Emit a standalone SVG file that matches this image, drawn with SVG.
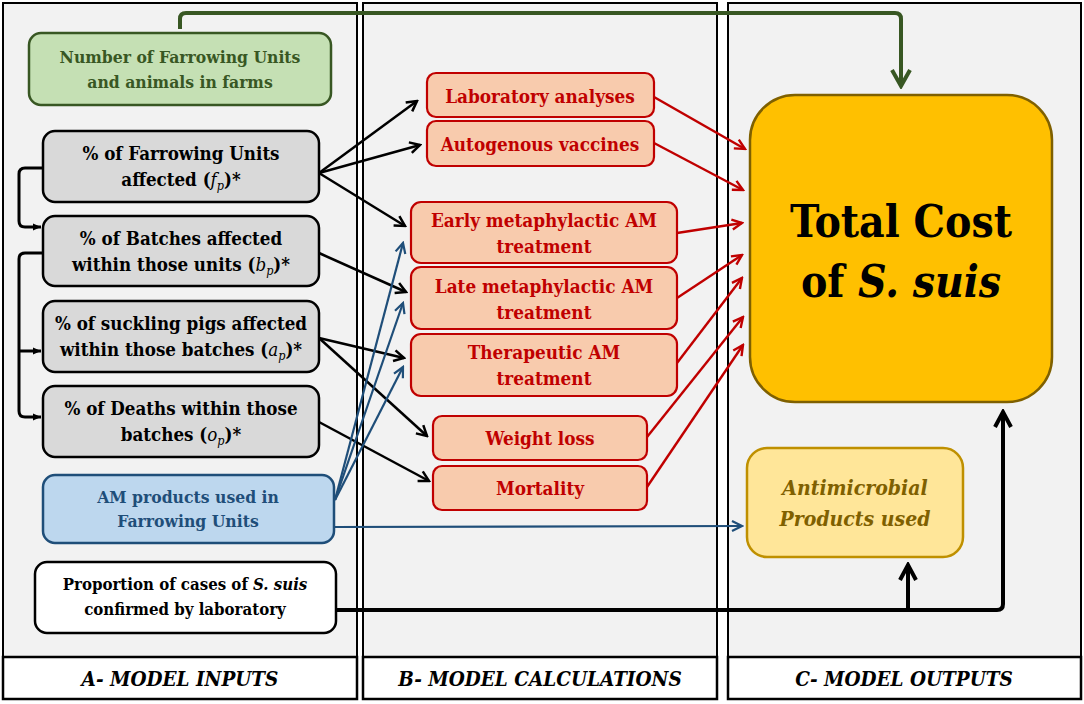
<svg xmlns="http://www.w3.org/2000/svg" width="1084" height="704" viewBox="0 0 1084 704">
<style>
text{font-family:'DejaVu Serif','Liberation Serif',serif;font-weight:bold;text-anchor:middle;font-stretch:condensed}
.panel{fill:#f2f2f2;stroke:#000;stroke-width:2}
.lab{fill:#fff;stroke:#000;stroke-width:2.5}
.labt{font-size:20.5px;font-style:italic}
.green{fill:#c5e0b4;stroke:#385723;stroke-width:2.5}
.gray{fill:#d9d9d9;stroke:#000;stroke-width:2.5}
.blue{fill:#bdd7ee;stroke:#1f4e79;stroke-width:2.5}
.white{fill:#fff;stroke:#000;stroke-width:2.5}
.org{fill:#f8cbad;stroke:#c00000;stroke-width:2.2}
.tc{fill:#ffc000;stroke:#7f6000;stroke-width:2.5}
.amb{fill:#ffe699;stroke:#bf9000;stroke-width:2.5}
.t{font-size:18.6px}
.tm{font-size:18.8px;fill:#c00000}
.m{font-weight:normal;font-style:italic}
.sub{font-size:12.5px;font-weight:normal;font-style:italic}
.ck{fill:none;stroke:#000;stroke-width:2.5}
.cr{fill:none;stroke:#c00000;stroke-width:2.4}
.cb{fill:none;stroke:#1f4e79;stroke-width:2.2}
</style>
<defs>
<marker id="ak" markerUnits="userSpaceOnUse" viewBox="0 0 14 14" markerWidth="14" markerHeight="14" refX="12" refY="7" orient="auto"><path d="M2,1.5 L12,7 L2,12.5" fill="none" stroke="#000" stroke-width="2.5"/></marker>
<marker id="ar" markerUnits="userSpaceOnUse" viewBox="0 0 14 14" markerWidth="14" markerHeight="14" refX="12" refY="7" orient="auto"><path d="M2,2 L12,7 L2,12" fill="none" stroke="#c00000" stroke-width="2.4"/></marker>
<marker id="ab" markerUnits="userSpaceOnUse" viewBox="0 0 14 14" markerWidth="14" markerHeight="14" refX="12" refY="7" orient="auto"><path d="M2,2 L12,7 L2,12" fill="none" stroke="#1f4e79" stroke-width="2.2"/></marker>
<marker id="ag" markerUnits="userSpaceOnUse" viewBox="0 0 22 22" markerWidth="22" markerHeight="22" refX="19" refY="11" orient="auto"><path d="M3,2 L19,11 L3,20" fill="none" stroke="#385723" stroke-width="4"/></marker>
<marker id="akb" markerUnits="userSpaceOnUse" viewBox="0 0 22 22" markerWidth="22" markerHeight="22" refX="19" refY="11" orient="auto"><path d="M4,3 L19,11 L4,19" fill="none" stroke="#000" stroke-width="4"/></marker>
<marker id="at" markerUnits="userSpaceOnUse" viewBox="0 0 10 10" markerWidth="10" markerHeight="10" refX="9" refY="5" orient="auto"><path d="M1,1.5 L9,5 L1,8.5 Z" fill="#000"/></marker>
</defs>

<g id="panels">
<rect class="panel" x="3" y="3" width="354" height="696"/>
<rect class="lab" x="3" y="657" width="354" height="42"/>
<text class="labt" x="180" y="686">A- MODEL INPUTS</text>
<rect class="panel" x="363" y="3" width="354" height="696"/>
<rect class="lab" x="363" y="657" width="354" height="42"/>
<text class="labt" x="540" y="686">B- MODEL CALCULATIONS</text>
<rect class="panel" x="728" y="3" width="353" height="696"/>
<rect class="lab" x="728" y="657" width="353" height="42"/>
<text class="labt" x="904" y="686">C- MODEL OUTPUTS</text>
</g>

<g id="connectors">
<path d="M180,29 V19 Q180,13 186,13 H895 Q901,13 901,19 V86" fill="none" stroke="#385723" stroke-width="4" marker-end="url(#ag)"/>
<path d="M43,168 H25 Q19,168 19,174 V221 Q19,227 25,227 H41" fill="none" stroke="#000" stroke-width="3" marker-end="url(#at)"/>
<path d="M43,253 H25 Q19,253 19,259 V411 Q19,417 25,417 H41" fill="none" stroke="#000" stroke-width="3" marker-end="url(#at)"/>
<path d="M19,351 H41" fill="none" stroke="#000" stroke-width="3" marker-end="url(#at)"/>
<line class="ck" x1="319" y1="173" x2="417" y2="101" marker-end="url(#ak)"/>
<line class="ck" x1="319" y1="173" x2="420" y2="145" marker-end="url(#ak)"/>
<line class="ck" x1="319" y1="173" x2="405" y2="226" marker-end="url(#ak)"/>
<line class="ck" x1="319" y1="253" x2="406" y2="292" marker-end="url(#ak)"/>
<line class="ck" x1="319" y1="338" x2="404" y2="358" marker-end="url(#ak)"/>
<line class="ck" x1="319" y1="338" x2="427" y2="436" marker-end="url(#ak)"/>
<line class="ck" x1="319" y1="422" x2="429" y2="481" marker-end="url(#ak)"/>
<line class="cb" x1="335" y1="500" x2="403" y2="243" marker-end="url(#ab)"/>
<line class="cb" x1="335" y1="500" x2="403" y2="303" marker-end="url(#ab)"/>
<line class="cb" x1="335" y1="500" x2="403" y2="367" marker-end="url(#ab)"/>
<line class="cb" x1="335" y1="527" x2="742" y2="526" marker-end="url(#ab)"/>
<line class="cr" x1="654" y1="97" x2="745" y2="149" marker-end="url(#ar)"/>
<line class="cr" x1="654" y1="143" x2="743" y2="190" marker-end="url(#ar)"/>
<line class="cr" x1="677" y1="233" x2="742" y2="223" marker-end="url(#ar)"/>
<line class="cr" x1="677" y1="298" x2="742" y2="255" marker-end="url(#ar)"/>
<line class="cr" x1="677" y1="363" x2="742" y2="278" marker-end="url(#ar)"/>
<line class="cr" x1="647" y1="437" x2="743" y2="317" marker-end="url(#ar)"/>
<line class="cr" x1="647" y1="487" x2="743" y2="345" marker-end="url(#ar)"/>
<path d="M336,610 H997 Q1003,610 1003,604 V412" fill="none" stroke="#000" stroke-width="4" marker-end="url(#akb)"/>
<path d="M908,610 V565" fill="none" stroke="#000" stroke-width="4" marker-end="url(#akb)"/>
</g>

<g id="n-farrowing-units">
<rect class="green" x="29" y="33" width="302" height="72" rx="12"/>
<text x="180" y="63" fill="#385723" font-size="17.4">Number of Farrowing Units</text>
<text x="180" y="88" fill="#385723" font-size="17.4">and animals in farms</text>
</g>
<g id="n-fp">
<rect class="gray" x="43" y="131" width="276" height="71" rx="12"/>
<text class="t" x="181" y="160">% of Farrowing Units</text>
<text class="t" x="181" y="186">affected (<tspan class="m">f</tspan><tspan class="sub" dy="4">p</tspan><tspan dy="-4">)*</tspan></text>
</g>
<g id="n-bp">
<rect class="gray" x="43" y="216" width="276" height="70" rx="12"/>
<text class="t" x="181" y="245">% of Batches affected</text>
<text class="t" x="181" y="271">within those units (<tspan class="m">b</tspan><tspan class="sub" dy="4">p</tspan><tspan dy="-4">)*</tspan></text>
</g>
<g id="n-ap">
<rect class="gray" x="43" y="301" width="276" height="71" rx="12"/>
<text class="t" x="181" y="330">% of suckling pigs affected</text>
<text class="t" x="181" y="356">within those batches (<tspan class="m">a</tspan><tspan class="sub" dy="4">p</tspan><tspan dy="-4">)*</tspan></text>
</g>
<g id="n-op">
<rect class="gray" x="43" y="386" width="276" height="71" rx="12"/>
<text class="t" x="181" y="415">% of Deaths within those</text>
<text class="t" x="181" y="441">batches (<tspan class="m">o</tspan><tspan class="sub" dy="4">p</tspan><tspan dy="-4">)*</tspan></text>
</g>
<g id="n-am-products">
<rect class="blue" x="43" y="475" width="291" height="68" rx="12"/>
<text x="188" y="503" fill="#1f4e79" font-size="17.4">AM products used in</text>
<text x="188" y="527" fill="#1f4e79" font-size="17.4">Farrowing Units</text>
</g>
<g id="n-lab-confirmed">
<rect class="white" x="35" y="562" width="301" height="71" rx="12"/>
<text x="185" y="590" font-size="16.7">Proportion of cases of <tspan font-style="italic">S. suis</tspan></text>
<text x="185" y="615" font-size="16.7">confirmed by laboratory</text>
</g>

<g id="n-lab-analyses">
<rect class="org" x="427" y="73" width="227" height="44" rx="9"/>
<text class="tm" x="540" y="103">Laboratory analyses</text>
</g>
<g id="n-vaccines">
<rect class="org" x="427" y="121" width="227" height="45" rx="9"/>
<text class="tm" x="540" y="151">Autogenous vaccines</text>
</g>
<g id="n-early">
<rect class="org" x="411" y="202" width="266" height="61" rx="10"/>
<text class="tm" x="544" y="227">Early metaphylactic AM</text>
<text class="tm" x="544" y="253">treatment</text>
</g>
<g id="n-late">
<rect class="org" x="411" y="267" width="266" height="62" rx="10"/>
<text class="tm" x="544" y="293">Late metaphylactic AM</text>
<text class="tm" x="544" y="319">treatment</text>
</g>
<g id="n-therapeutic">
<rect class="org" x="411" y="334" width="266" height="62" rx="10"/>
<text class="tm" x="544" y="359">Therapeutic AM</text>
<text class="tm" x="544" y="385">treatment</text>
</g>
<g id="n-weight">
<rect class="org" x="433" y="416" width="214" height="44" rx="9"/>
<text class="tm" x="540" y="445">Weight loss</text>
</g>
<g id="n-mortality">
<rect class="org" x="433" y="466" width="214" height="44" rx="9"/>
<text class="tm" x="540" y="495">Mortality</text>
</g>

<g id="n-total-cost">
<rect class="tc" x="750" y="95" width="302" height="307" rx="45"/>
<text x="901" y="237" font-size="44">Total Cost</text>
<text x="901" y="297" font-size="44">of <tspan font-style="italic">S. suis</tspan></text>
</g>
<g id="n-antimicrobial">
<rect class="amb" x="747" y="448" width="216" height="109" rx="20"/>
<text x="855" y="495" font-size="21" font-style="italic" fill="#7f6000">Antimicrobial</text>
<text x="855" y="526" font-size="21" font-style="italic" fill="#7f6000">Products used</text>
</g>
</svg>
